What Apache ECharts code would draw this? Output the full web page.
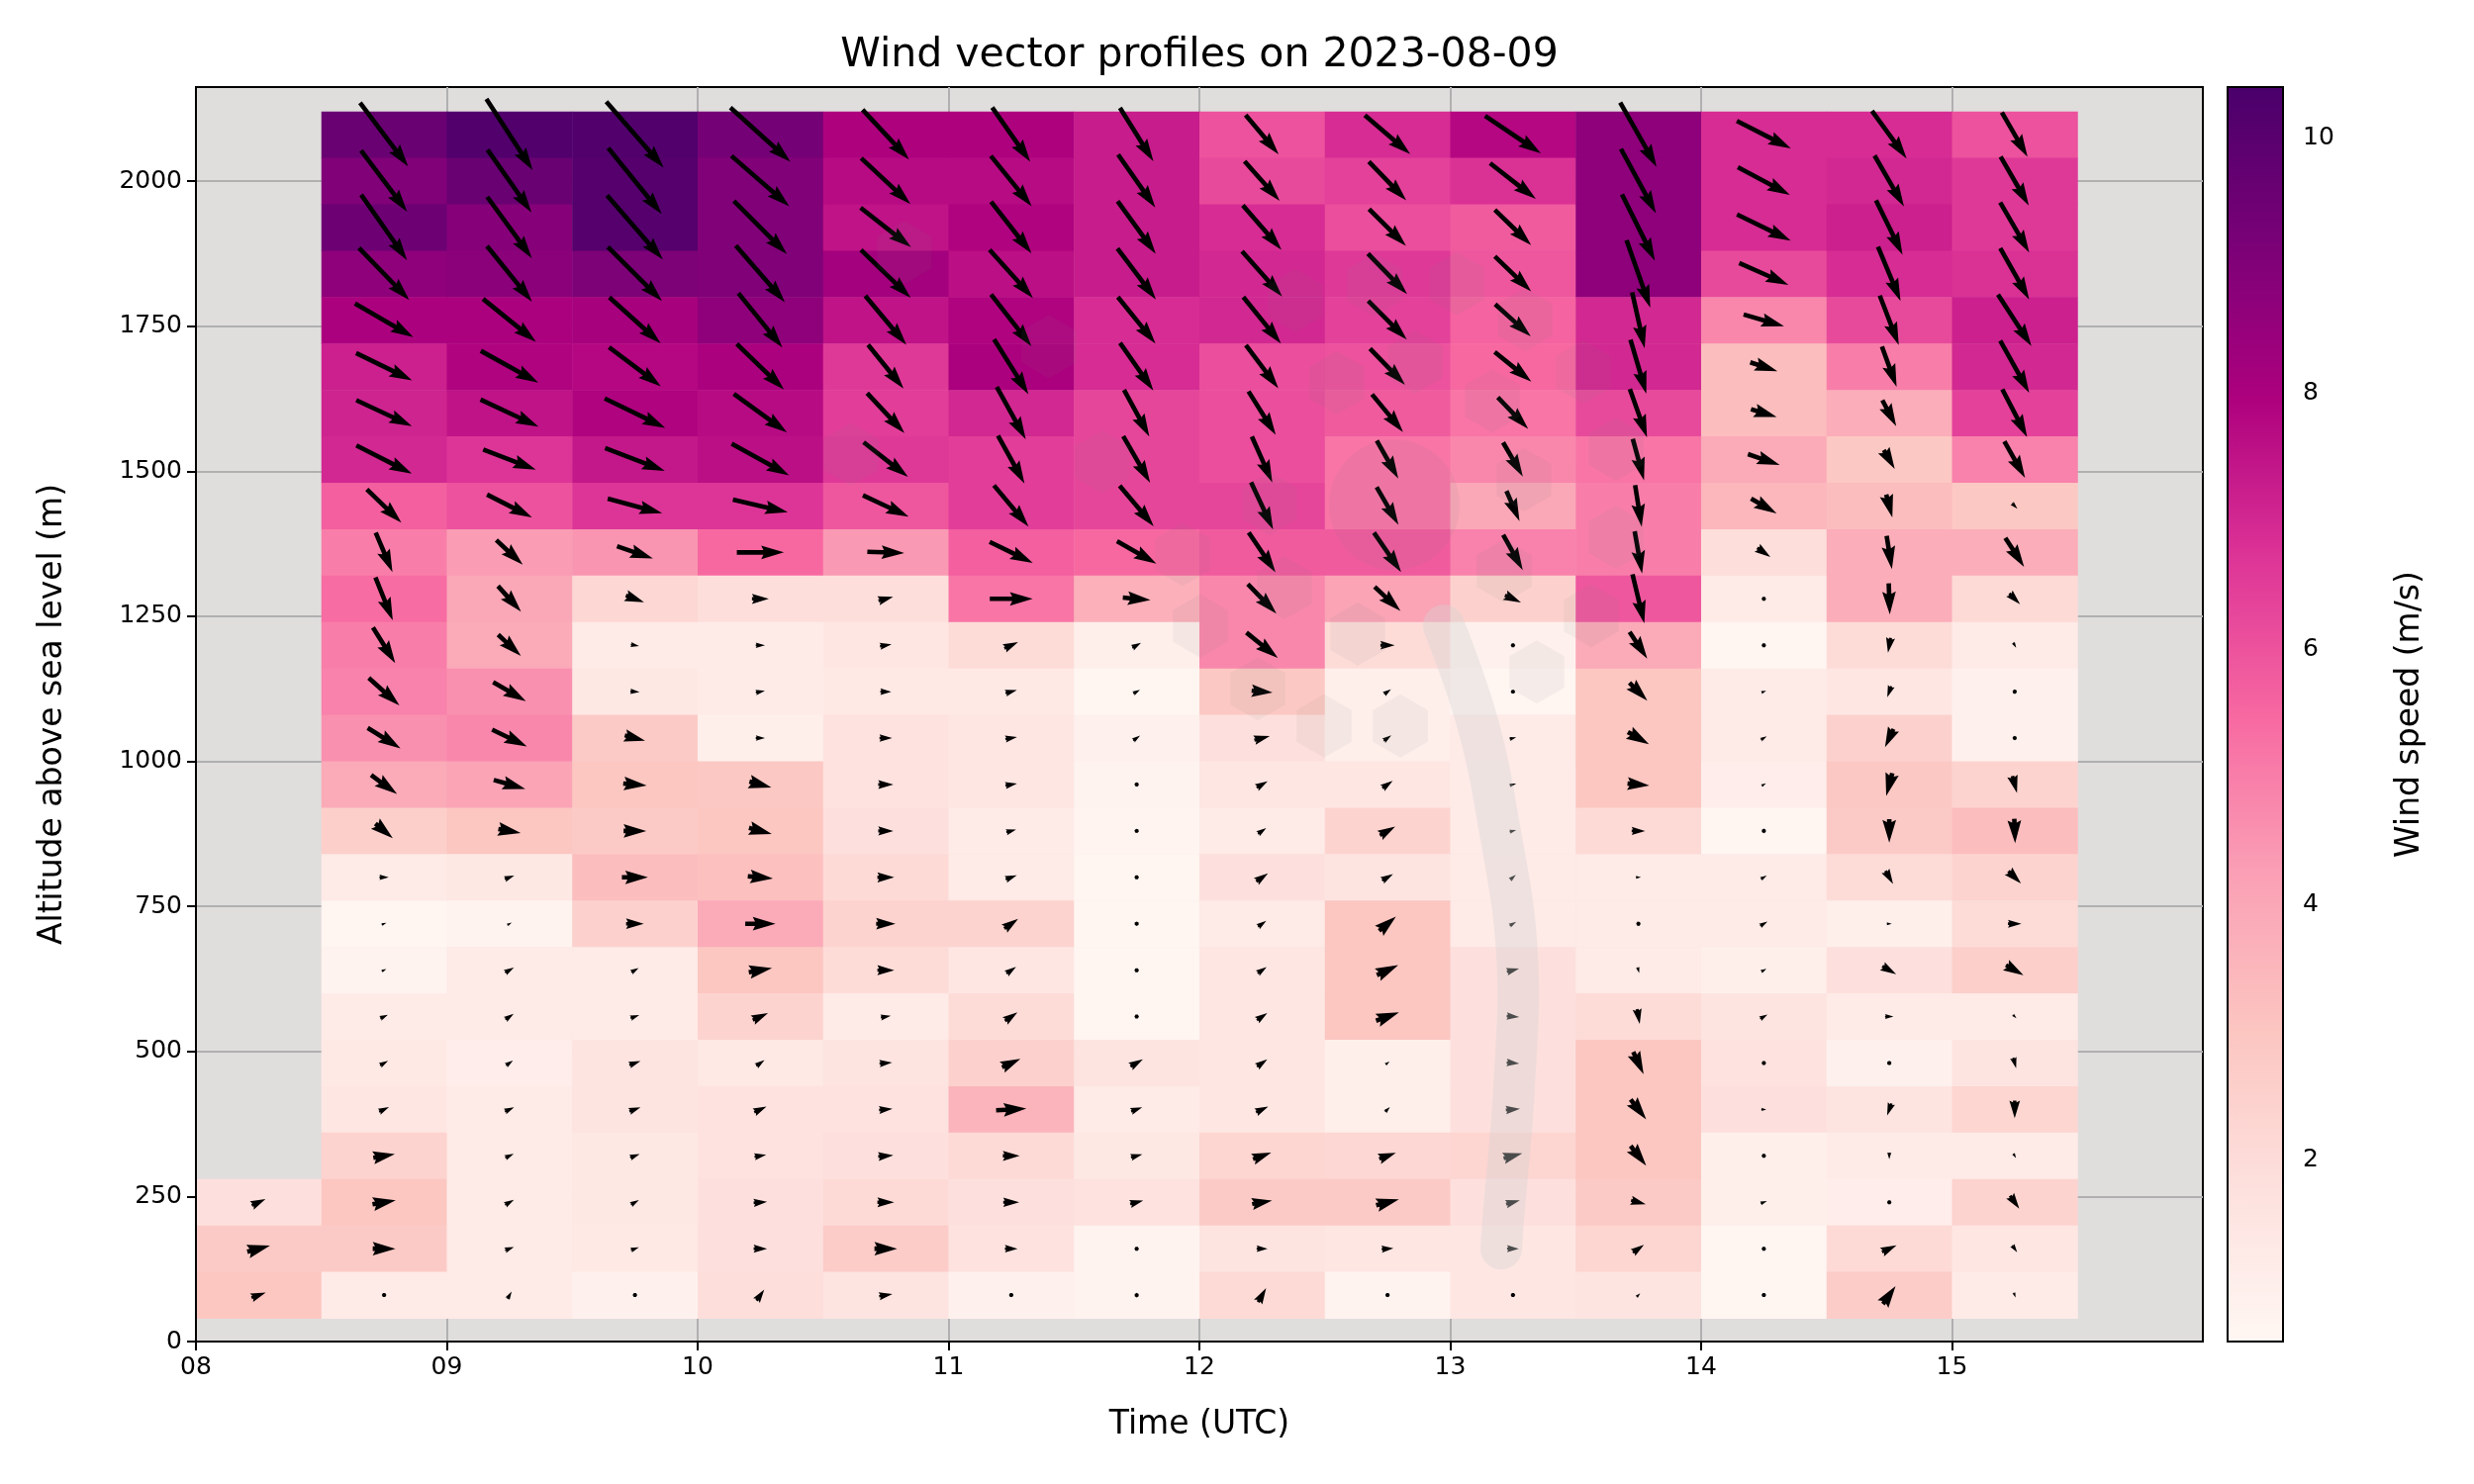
<!DOCTYPE html>
<html><head><meta charset="utf-8">
<script src="https://cdn.jsdelivr.net/npm/echarts@6/dist/echarts.min.js"></script>
<style>html,body{margin:0;padding:0;background:#fff}#c{width:2500px;height:1500px}</style>
</head><body><div id="c"></div>
<script>
// ---------------- data ----------------
const times = [8.25, 8.75, 9.25, 9.75, 10.25, 10.75, 11.25, 11.75, 12.25, 12.75, 13.25, 13.75, 14.25, 14.75, 15.25];
const levels = [2080, 2000, 1920, 1840, 1760, 1680, 1600, 1520, 1440, 1360, 1280, 1200, 1120, 1040, 960, 880, 800, 720, 640, 560, 480, 400, 320, 240, 160, 80];
const xTicks = [8, 9, 10, 11, 12, 13, 14, 15];
const yTicks = [0, 250, 500, 750, 1000, 1250, 1500, 1750, 2000];
const cbTicks = [2, 4, 6, 8, 10];
const speedMin = 0.58, speedMax = 10.4;
const rdpu = ['#fff7f3', '#fde0dd', '#fcc5c0', '#fa9fb5', '#f768a1', '#dd3497', '#ae017e', '#7a0177', '#49006a'];

// speed = cell colour (m/s); mag = arrow length (m/s); dir = arrow direction (deg, 0 = east, 90 = up)
const spd0815 = [null,null,null,null,null,null,null,null,null,null,null,null,null,null,null,null,null,null,null,null,null,null,null, 1.8, 2.8, 3.0];
const mag0815 = [null,null,null,null,null,null,null,null,null,null,null,null,null,null,null,null,null,null,null,null,null,null,null, 1.8, 2.8, 1.8];
const dir0815 = [null,null,null,null,null,null,null,null,null,null,null,null,null,null,null,null,null,null,null,null,null,null,null, 25, 15, 20];

const spd0845 = [9.6, 9.0, 9.5, 8.7, 8.0, 7.2, 7.1, 7.0, 5.7, 5.0, 5.4, 5.0, 4.9, 4.6, 3.9, 2.6, 1.3, 0.7, 0.8, 1.2, 1.35, 1.5, 2.4, 3.0, 2.8, 1.3];
const mag0845 = [9.5, 9.1, 9.5, 8.6, 8.0, 7.4, 7.3, 7.4, 5.7, 5.1, 5.5, 5.0, 4.9, 4.6, 3.8, 2.7, 1.1, 0.6, 0.6, 1.0, 1.1, 1.3, 2.6, 2.8, 2.7, 0.2];
const dir0845 = [-53, -53, -55, -46, -30, -26, -25, -27, -44, -67, -68, -58, -42, -32, -36, -40, 0, 20, 25, 25, 30, 25, 10, 10, 0, 0];

const spd0915 = [10.2, 9.6, 8.9, 8.8, 8.0, 7.9, 7.5, 6.7, 6.0, 4.3, 4.0, 3.9, 4.6, 4.8, 4.1, 3.0, 1.4, 0.8, 1.3, 1.3, 1.1, 1.3, 1.3, 1.3, 1.3, 1.3];
const mag0915 = [10.1, 9.1, 9.0, 8.5, 8.1, 7.8, 7.6, 6.7, 6.0, 4.3, 4.1, 3.7, 4.5, 4.6, 3.9, 2.7, 1.2, 0.6, 1.2, 1.2, 1.0, 1.2, 1.1, 1.2, 1.1, 1.0];
const dir0915 = [-57, -55, -54, -51, -39, -29, -25, -21, -27, -43, -48, -43, -30, -26, -16, -10, 20, 30, 30, 35, 35, 25, 25, 30, 20, 60];

const spd0945 = [10.2, 10.1, 10.1, 9.1, 8.1, 7.8, 7.9, 7.4, 6.7, 4.5, 2.2, 1.3, 1.4, 2.8, 3.0, 2.8, 3.3, 2.5, 1.3, 1.3, 1.6, 1.6, 1.4, 1.4, 1.35, 0.9];
const mag0945 = [10.4, 10.1, 10.1, 9.1, 8.2, 7.7, 8.0, 7.6, 6.7, 4.5, 2.3, 1.0, 1.1, 2.5, 2.8, 2.7, 3.1, 2.1, 1.0, 1.1, 1.4, 1.4, 1.2, 1.1, 1.0, 0.2];
const dir0945 = [-49, -51, -49, -45, -42, -37, -26, -21, -15, -19, -20, -10, -5, -15, -5, 0, 0, 0, 30, 20, 20, 20, 20, 30, 20, 0];

const spd1015 = [9.3, 9.0, 9.0, 9.0, 8.7, 8.0, 7.7, 7.6, 6.7, 5.5, 1.9, 1.2, 1.2, 1.0, 2.9, 3.0, 3.2, 3.9, 3.0, 2.4, 1.35, 1.7, 1.7, 1.8, 1.8, 1.9];
const mag1015 = [9.6, 9.1, 8.9, 8.9, 8.3, 7.8, 7.8, 7.8, 6.7, 5.6, 2.0, 1.1, 1.1, 1.1, 2.7, 2.8, 3.0, 3.6, 2.8, 2.0, 1.2, 1.6, 1.4, 1.6, 1.6, 1.6];
const dir1015 = [-42, -41, -45, -49, -51, -44, -36, -29, -13, 0, 0, 0, 10, 0, -15, -15, -5, 0, 10, 25, 35, 25, 10, 5, 0, 55];

const spd1045 = [7.95, 7.7, 7.5, 8.2, 7.5, 6.6, 6.5, 6.6, 5.9, 4.4, 1.9, 1.5, 1.35, 1.7, 1.7, 1.8, 2.1, 2.4, 2.0, 1.3, 1.6, 1.7, 1.8, 2.1, 2.7, 1.6];
const mag1045 = [8.1, 8.0, 7.6, 8.2, 7.6, 6.7, 6.5, 6.7, 6.0, 4.4, 1.8, 1.4, 1.3, 1.5, 1.8, 1.8, 2.0, 2.3, 2.0, 1.2, 1.5, 1.6, 1.8, 2.0, 2.7, 1.6];
const dir1045 = [-47, -43, -38, -44, -50, -51, -47, -38, -25, -2, 15, 10, 0, 0, 0, 0, 0, 0, 0, 10, 5, 5, 5, 0, 0, 10];

const spd1115 = [7.95, 7.7, 7.9, 7.6, 7.9, 8.0, 7.0, 6.5, 6.5, 5.7, 5.2, 2.0, 1.35, 1.5, 1.5, 1.25, 1.3, 2.4, 1.5, 2.0, 2.5, 3.6, 2.1, 1.8, 1.7, 0.9];
const mag1115 = [7.9, 7.7, 7.8, 7.7, 7.8, 7.7, 7.1, 6.5, 6.4, 5.7, 5.1, 1.8, 1.4, 1.4, 1.4, 1.2, 1.4, 2.0, 1.4, 1.8, 2.4, 3.6, 2.0, 1.9, 1.5, 0.2];
const dir1115 = [-55, -51, -52, -48, -52, -58, -61, -61, -50, -26, 0, 25, 15, 10, 10, 15, 20, 35, 35, 35, 25, 3, 0, 0, 0, 0];

const spd1145 = [7.3, 7.3, 7.3, 7.3, 6.9, 6.9, 6.3, 6.3, 6.3, 5.5, 3.7, 1.0, 0.7, 0.9, 0.8, 0.75, 0.7, 0.7, 0.7, 0.7, 1.6, 1.3, 1.4, 1.7, 0.8, 0.8];
const mag1145 = [7.5, 7.7, 7.7, 7.6, 7.1, 6.9, 6.3, 6.4, 6.3, 5.4, 3.3, 1.2, 0.9, 1.0, 0.5, 0.5, 0.2, 0.4, 0.2, 0.2, 1.7, 1.4, 1.4, 1.6, 0.2, 0.4];
const dir1145 = [-58, -55, -54, -53, -51, -55, -61.5, -60, -50, -30, -5, 30, 30, 35, 45, 45, 0, -90, 0, 0, 30, 20, 15, 15, 0, 90];

const spd1215 = [6.0, 6.2, 6.9, 7.0, 7.0, 6.1, 6.1, 6.1, 6.3, 5.8, 4.8, 4.8, 2.9, 1.8, 1.5, 1.3, 1.8, 1.3, 1.5, 1.5, 1.5, 1.5, 2.3, 2.8, 1.6, 2.1];
const mag1215 = [6.1, 6.3, 7.0, 7.2, 7.1, 6.4, 6.1, 6.0, 6.2, 5.7, 4.9, 4.8, 2.5, 1.9, 1.5, 1.2, 1.7, 1.2, 1.3, 1.5, 1.5, 1.6, 2.3, 2.4, 1.3, 1.9];
const dir1215 = [-50, -48.5, -49, -48.5, -51, -53, -58, -66, -65, -56, -46, -39, -5, 15, 30, 35, 35, 35, 35, 35, 35, 25, 20, 10, 0, 60];

const spd1245 = [6.9, 6.4, 6.1, 6.6, 6.4, 6.0, 5.8, 5.2, 5.2, 5.8, 4.1, 2.0, 1.0, 1.0, 1.5, 2.4, 1.6, 3.0, 3.0, 3.0, 1.0, 1.0, 2.2, 2.8, 1.5, 0.8];
const mag1245 = [7.1, 6.4, 6.2, 6.7, 6.5, 6.0, 5.8, 5.2, 5.2, 5.7, 4.2, 1.7, 1.0, 1.1, 1.5, 2.1, 1.5, 2.6, 2.8, 2.9, 0.6, 0.8, 2.1, 2.8, 1.4, 0.5];
const dir1245 = [-40.5, -46, -45, -46, -45, -46, -50.5, -60.5, -60, -55.5, -43, 0, 35, 35, 35, 30, 30, 40, 25, 20, 35, 45, 20, 15, 5, 60];

const spd1315 = [7.8, 6.8, 5.8, 5.9, 5.6, 5.5, 5.2, 4.8, 4.0, 4.9, 2.5, 0.9, 0.7, 1.3, 1.2, 1.2, 1.3, 1.3, 1.8, 1.8, 1.8, 1.8, 2.3, 1.8, 1.5, 1.5];
const mag1315 = [8.0, 6.9, 6.0, 6.0, 5.7, 5.6, 5.2, 4.7, 3.9, 4.8, 2.1, 0.2, 0.2, 0.8, 0.8, 0.8, 0.9, 0.9, 1.5, 1.5, 1.5, 1.7, 2.3, 1.7, 1.4, 0.2];
const dir1315 = [-34, -38, -44, -44, -42, -39, -46, -60, -66.5, -61, -25, 0, 0, 15, 15, 15, 40, 30, 15, -5, -5, 5, 15, 15, 0, 0];

const spd1345 = [8.7, 8.7, 8.7, 8.7, 7.0, 7.0, 6.2, 5.2, 5.0, 5.0, 5.9, 3.9, 3.0, 3.0, 3.0, 2.1, 1.3, 1.3, 1.3, 2.0, 3.0, 3.0, 3.0, 2.8, 2.3, 1.6];
const mag1345 = [8.8, 8.7, 8.8, 8.5, 6.8, 6.7, 6.1, 5.1, 5.0, 5.1, 6.0, 3.8, 3.0, 2.9, 2.6, 1.6, 0.6, 0.5, 0.7, 1.8, 2.9, 3.0, 3.0, 1.8, 1.6, 0.6];
const dir1345 = [-60.5, -61.5, -63.6, -70.6, -77.4, -73.7, -70.5, -74.8, -81, -80, -76.5, -56.5, -45, -30, -5, 0, 0, -70, -75, -80, -65, -52, -52, -15, 35, 45];

const spd1415 = [6.9, 6.9, 6.9, 6.2, 4.8, 3.3, 3.3, 3.9, 3.5, 1.9, 1.3, 0.7, 1.2, 1.3, 1.1, 0.7, 1.2, 1.3, 1.0, 1.6, 1.7, 1.8, 1.0, 1.0, 0.7, 0.7];
const mag1415 = [7.2, 7.0, 7.1, 6.4, 5.0, 3.4, 3.2, 4.0, 3.5, 1.9, 0.2, 0.2, 0.6, 0.8, 0.6, 0.4, 0.8, 1.0, 0.7, 1.0, 0.5, 0.6, 0.2, 0.8, 0.2, 0.2];
const dir1415 = [-27, -28, -26, -24, -16, -18, -17, -19, -30, -35, 0, 0, 20, 30, 30, 30, 30, 30, 30, 30, 0, 0, 0, 20, 0, 0];

const spd1445 = [6.9, 7.0, 7.2, 6.9, 6.2, 5.0, 3.8, 2.9, 3.3, 3.8, 3.8, 2.0, 1.5, 2.5, 2.9, 2.8, 2.0, 1.0, 1.8, 1.3, 0.9, 1.6, 1.3, 1.1, 2.1, 2.7];
const mag1445 = [7.0, 7.0, 7.2, 7.0, 6.3, 5.1, 3.5, 2.6, 2.8, 4.0, 3.7, 1.8, 1.4, 2.4, 2.8, 2.8, 1.8, 0.6, 1.9, 1.0, 0.5, 1.5, 0.8, 0.5, 1.9, 2.6];
const dir1445 = [-54, -60, -64, -67.5, -69, -70, -62, -60, -75, -81, -88, -100, -110, -115, -105, -90, -60, 0, -30, 0, -90, -110, -90, 0, 25, 55];

const spd1515 = [6.0, 6.6, 6.6, 6.8, 7.2, 7.0, 6.4, 4.9, 2.9, 3.8, 2.1, 1.3, 0.9, 0.9, 2.4, 3.3, 2.4, 2.0, 2.6, 1.3, 1.6, 2.3, 1.2, 2.4, 1.5, 1.2];
const mag1515 = [6.1, 6.7, 6.9, 7.0, 7.3, 7.1, 6.4, 5.0, 0.9, 4.1, 1.8, 0.7, 0.5, 0.5, 2.1, 2.9, 2.1, 1.6, 2.4, 0.6, 1.3, 2.1, 0.6, 1.9, 1.0, 0.6];
const dir1515 = [-60, -60, -60, -60.6, -57, -61, -62.6, -60.6, -45, -57, -45, -60, -85, -85, -75, -88, -45, 0, -30, -45, -75, -90, -60, -55, -55, -70];

// faint translucent overlays seen on the reference (time h, altitude m)
const hexT = [10.824, 11.400, 10.611, 11.613, 11.933, 12.004, 12.383, 12.698, 13.026, 13.298, 12.860, 12.548, 13.168, 13.531, 13.661, 13.294, 12.280, 13.661, 12.339, 12.631, 13.215, 13.562, 13.345, 12.233, 12.497, 12.801];
const hexZ = [1877, 1715, 1529, 1516, 1357, 1233, 1794, 1821, 1823, 1761, 1688, 1652, 1621, 1671, 1538, 1485, 1444, 1386, 1299, 1219, 1328, 1251, 1154, 1125, 1061, 1061];
const circleTZ = [12.777, 1442];
const arcT = [12.974, 13.108, 13.191, 13.266, 13.254, 13.211, 13.203];
const arcZ = [1234, 1067, 897, 670, 436, 210, 160];

// ---------------- build chart ----------------
const columns = [
  [spd0815, mag0815, dir0815], [spd0845, mag0845, dir0845], [spd0915, mag0915, dir0915],
  [spd0945, mag0945, dir0945], [spd1015, mag1015, dir1015], [spd1045, mag1045, dir1045],
  [spd1115, mag1115, dir1115], [spd1145, mag1145, dir1145], [spd1215, mag1215, dir1215],
  [spd1245, mag1245, dir1245], [spd1315, mag1315, dir1315], [spd1345, mag1345, dir1345],
  [spd1415, mag1415, dir1415], [spd1445, mag1445, dir1445], [spd1515, mag1515, dir1515]
];
const cellData = [], arrowData = [];
columns.forEach((c, j) => {
  levels.forEach((alt, i) => {
    if (c[0][i] == null) return;
    cellData.push([times[j], alt, c[0][i]]);
    arrowData.push([times[j], alt, c[1][i], c[2][i]]);
  });
});

const FONT = '"DejaVu Sans", sans-serif';
const HALF_T = 0.25, HALF_Z = 40;
const SHAFT = 4.6;
const PX_PER_MS = 8.5;

function renderCell(params, api) {
  const t = api.value(0), a = api.value(1);
  const p0 = api.coord([t - HALF_T, a + HALF_Z]);
  const p1 = api.coord([t + HALF_T, a - HALF_Z]);
  return { type: 'rect', shape: { x: p0[0], y: p0[1], width: p1[0] - p0[0] + 0.5, height: p1[1] - p0[1] + 0.5 },
           style: { fill: api.visual('color') } };
}

function renderArrow(params, api) {
  const t = api.value(0), a = api.value(1), m = api.value(2), d = api.value(3);
  const c = api.coord([t, a]);
  const L = m * PX_PER_MS / SHAFT;
  let pts;
  if (L < 1) {
    pts = [];
    for (let k = 0; k < 6; k++) { const th = k * Math.PI / 3; pts.push([0.5 * Math.cos(th), 0.5 * Math.sin(th)]); }
  } else if (L < 5) {
    const s = L / 5;
    pts = [[0, 0.5], [0.5, 0.5], [0, 1.5], [5, 0], [0, -1.5], [0.5, -0.5], [0, -0.5]].map(p => [p[0] * s - L / 2, p[1] * s]);
  } else {
    pts = [[0, 0.5], [L - 4.5, 0.5], [L - 5, 1.5], [L, 0], [L - 5, -1.5], [L - 4.5, -0.5], [0, -0.5]].map(p => [p[0] - L / 2, p[1]]);
  }
  const r = d * Math.PI / 180, cs = Math.cos(r), sn = Math.sin(r);
  const out = pts.map(p => {
    const x = p[0] * SHAFT, y = p[1] * SHAFT;
    return [c[0] + x * cs - y * sn, c[1] - (x * sn + y * cs)];
  });
  return { type: 'polygon', shape: { points: out }, style: { fill: '#000' } };
}

function renderBar(params, api) {
  const p0 = api.coord([0, speedMax]);
  const p1 = api.coord([1, speedMin]);
  return { type: 'rect', shape: { x: p0[0], y: p0[1], width: p1[0] - p0[0], height: p1[1] - p0[1] },
    style: { fill: new echarts.graphic.LinearGradient(0, 1, 0, 0, rdpu.map((col, i) => ({ offset: i / (rdpu.length - 1), color: col }))),
             stroke: '#000', lineWidth: 2 } };
}

const tickStyle = { color: '#000', fontSize: 25, fontFamily: FONT };
const nameStyle = { color: '#000', fontSize: 33, fontFamily: FONT };
const chart = echarts.init(document.getElementById('c'));
chart.setOption({
  animation: false,
  backgroundColor: '#ffffff',
  textStyle: { fontFamily: FONT },
  grid: [
    { left: 198, top: 88, width: 2028, height: 1268, show: true, backgroundColor: '#e0dddd', borderColor: '#000', borderWidth: 2 },
    { left: 2251, top: 88, width: 56, height: 1268 }
  ],
  xAxis: [
    { gridIndex: 0, type: 'value', min: 8, max: 16, interval: 1,
      name: 'Time (UTC)', nameLocation: 'middle', nameGap: 68, nameTextStyle: nameStyle,
      axisLine: { show: true, lineStyle: { color: '#000', width: 2 } },
      axisTick: { show: true, length: 9, customValues: xTicks, lineStyle: { color: '#000', width: 2 } },
      axisLabel: { customValues: xTicks, margin: 14, formatter: v => String(v).padStart(2, '0'), ...tickStyle },
      splitLine: { show: true, lineStyle: { color: '#b0b0b0', width: 2 } } },
    { gridIndex: 1, type: 'value', min: 0, max: 1, show: false }
  ],
  yAxis: [
    { gridIndex: 0, type: 'value', min: 0, max: 2162,
      name: 'Altitude above sea level (m)', nameLocation: 'middle', nameGap: 128, nameRotate: 90, nameTextStyle: nameStyle,
      axisLine: { show: false },
      axisTick: { show: true, length: 9, customValues: yTicks, lineStyle: { color: '#000', width: 2 } },
      axisLabel: { customValues: yTicks, margin: 14, formatter: v => String(v), ...tickStyle },
      splitLine: { show: true, customValues: yTicks, lineStyle: { color: '#b0b0b0', width: 2 } } },
    { gridIndex: 1, type: 'value', min: speedMin, max: speedMax, position: 'right',
      name: 'Wind speed (m/s)', nameLocation: 'middle', nameGap: 112, nameRotate: 90, nameTextStyle: nameStyle,
      axisLine: { show: false },
      axisTick: { show: true, length: 9, customValues: cbTicks, lineStyle: { color: '#000', width: 2 } },
      axisLabel: { customValues: cbTicks, margin: 20, formatter: v => String(v), ...tickStyle },
      splitLine: { show: false } },
    { gridIndex: 0, type: 'value', min: 0, max: 2162, position: 'left', z: 10,
      axisLine: { show: true, lineStyle: { color: '#000', width: 2 } },
      axisTick: { show: false }, axisLabel: { show: false }, splitLine: { show: false } }
  ],
  visualMap: [{ type: 'continuous', show: false, seriesIndex: 0, dimension: 2, min: speedMin, max: speedMax, inRange: { color: rdpu } }],
  series: [
    { type: 'custom', xAxisIndex: 0, yAxisIndex: 0, data: cellData, renderItem: renderCell, z: 2, silent: true },
    { type: 'custom', xAxisIndex: 0, yAxisIndex: 0, data: arrowData, renderItem: renderArrow, z: 3, silent: true },
    { type: 'custom', xAxisIndex: 1, yAxisIndex: 1, data: [[0, speedMin]], renderItem: renderBar, z: 2, silent: true }
  ]
});

// overlays + title
const toPx = (t, z) => chart.convertToPixel({ gridIndex: 0 }, [t, z]);
const graphics = [{ type: 'text', x: 1212, y: 56, z: 100,
  style: { text: 'Wind vector profiles on 2023-08-09', font: '41px ' + FONT, fill: '#000', textAlign: 'center', textVerticalAlign: 'middle' } }];
hexT.forEach((t, i) => {
  const c = toPx(t, hexZ[i]), R = 32, pts = [];
  for (let k = 0; k < 6; k++) { const th = Math.PI / 2 + k * Math.PI / 3; pts.push([c[0] + R * Math.cos(th), c[1] + R * Math.sin(th)]); }
  graphics.push({ type: 'polygon', z: 50, silent: true, shape: { points: pts }, style: { fill: 'rgba(128,128,128,0.08)' } });
});
const cc = toPx(circleTZ[0], circleTZ[1]);
graphics.push({ type: 'circle', z: 50, silent: true, shape: { cx: cc[0], cy: cc[1], r: 66 }, style: { fill: 'rgba(128,128,128,0.08)' } });
graphics.push({ type: 'polyline', z: 51, silent: true, shape: { points: arcT.map((t, i) => toPx(t, arcZ[i])), smooth: 0.4 },
  style: { stroke: 'rgba(212,212,212,0.36)', lineWidth: 42, lineCap: 'round', lineJoin: 'round', fill: null } });
chart.setOption({ graphic: graphics });
</script>
</body></html>
